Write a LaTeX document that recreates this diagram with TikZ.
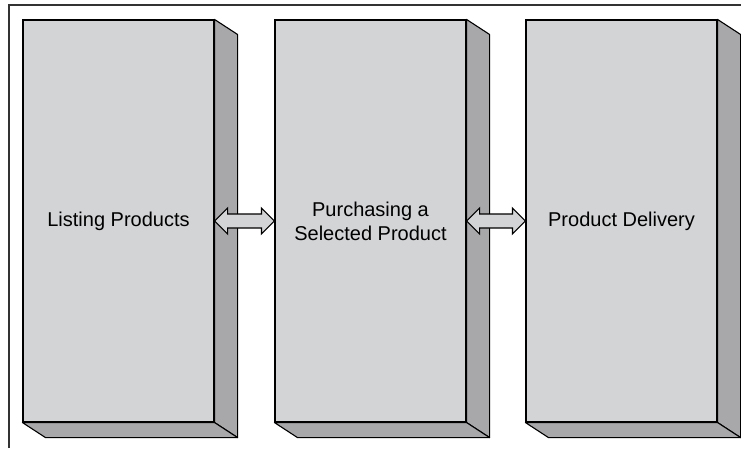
\documentclass[tikz,border=0pt]{standalone}
\usepackage{fontspec}
\setmainfont{Liberation Sans}
\usetikzlibrary{calc}
\definecolor{facefront}{HTML}{D3D4D6}
\definecolor{faceside}{HTML}{A8A8AA}
\definecolor{framegray}{HTML}{333333}
\tikzset{
  front/.style={draw=black, line width=1.1pt, fill=facefront,
    minimum width=191pt, minimum height=402pt, inner sep=0pt,
    align=center, font=\fontsize{20}{24}\selectfont},
  shade face/.style={draw=black, line width=1.1pt, fill=faceside, line join=round},
  dblarrow/.style={draw=black, line width=1.1pt, fill=facefront, line join=miter},
}
\begin{document}
\begin{tikzpicture}[x=1pt, y=-1pt]
  \useasboundingbox (0,0) rectangle (741,448);
  % open frame: only the top and left rules are shown
  \draw[framegray, line width=1.2pt] (9,448) -- (9,5) -- (741,5);

  % three stages as extruded blocks
  \foreach \name/\cx/\label in {f1/118.5/{Listing Products},
                                f2/370.5/{Purchasing a\\Selected Product},
                                f3/621.5/{Product Delivery}}{
    \node[front] (\name) at (\cx,221) {\label};
    % right side face
    \draw[shade face] (\name.north east) -- ++(23,15) -- ($(\name.south east)+(23,15)$)
      -- (\name.south east) -- cycle;
    % bottom face
    \draw[shade face] (\name.south west) -- ++(23,15) -- ($(\name.south east)+(23,15)$)
      -- (\name.south east) -- cycle;
  }

  % two-way arrows between stages
  \foreach \a/\b in {f1/f2, f2/f3}{
    \draw[dblarrow] (\a.east) -- ++(13,-13) -- ++(0,6)
      -- ($(\b.west)+(-13,-7)$) -- ++(0,-6) -- (\b.west) -- ++(-13,13) -- ++(0,-6)
      -- ($(\a.east)+(13,7)$) -- ++(0,6) -- cycle;
  }
\end{tikzpicture}
\end{document}
